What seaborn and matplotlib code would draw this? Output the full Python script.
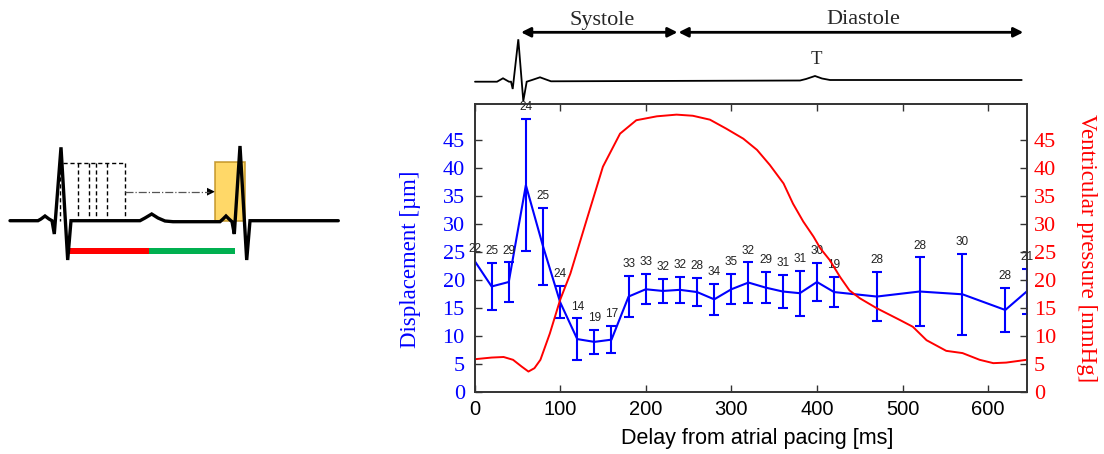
import numpy as np
import matplotlib
matplotlib.use("Agg")
import matplotlib.pyplot as plt
import seaborn as sns
from matplotlib.patches import Rectangle, Polygon

# ---------------- data ----------------
delay_ms = [0, 20, 40, 60, 80, 100, 120, 140, 160, 180, 200, 220, 240, 260, 280,
            300, 320, 340, 360, 380, 400, 420, 470, 520, 570, 620, 645]
disp_mean = [23.4, 18.8, 19.6, 36.9, 26.0, 16.0, 9.4, 8.9, 9.3, 17.0, 18.3, 18.0,
             18.2, 17.8, 16.5, 18.3, 19.5, 18.6, 17.9, 17.6, 19.6, 17.8, 17.0,
             17.9, 17.4, 14.6, 17.9]
disp_err = [np.nan, 4.2, 3.5, 11.8, 6.9, 2.9, 3.7, 2.1, 2.4, 3.7, 2.7, 2.1, 2.3,
            2.5, 2.8, 2.7, 3.6, 2.8, 2.9, 4.0, 3.4, 2.7, 4.4, 6.1, 7.2, 3.9, 4.0]
n_samples = [22, 25, 29, 24, 25, 24, 14, 19, 17, 33, 33, 32, 32, 28, 34, 35, 32,
             29, 31, 31, 30, 19, 28, 28, 30, 28, 21]

pressure_t = [0, 20, 34, 45, 55, 63, 70, 77, 88, 100, 112, 131, 150, 170, 189, 213,
              236, 255, 275, 294, 314, 330, 345, 361, 372, 384, 396, 404, 415, 427,
              438, 450, 470, 497, 512, 528, 551, 570, 590, 606, 621, 645]
pressure_mmHg = [5.8, 6.1, 6.2, 5.7, 4.5, 3.6, 4.2, 5.7, 10.4, 16.4, 21.1, 30.7,
                 40.2, 46.1, 48.5, 49.2, 49.5, 49.3, 48.6, 47.0, 45.2, 43.2, 40.5,
                 37.2, 33.6, 30.4, 27.7, 25.6, 23.5, 20.5, 18.1, 16.7, 14.9, 12.8,
                 11.6, 9.2, 7.3, 6.9, 5.7, 5.1, 5.2, 5.7]

x_ticks = [0, 100, 200, 300, 400, 500, 600]
y_ticks = [0, 5, 10, 15, 20, 25, 30, 35, 40, 45]

x_label = "Delay from atrial pacing [ms]"
y_label_left = "Displacement [\u00b5m]"
y_label_right = "Ventricular pressure [mmHg]"
phase_labels = ["Systole", "Diastole"]

# ---------------- style ----------------
sns.set_style("ticks")
plt.rcParams['font.family'] = ['Liberation Sans', 'DejaVu Sans']
SERIF = ['Liberation Serif', 'DejaVu Serif']
BLUE = '#0000FF'
RED = '#FF0000'
SPINE = '#333333'

W, H = 1104, 454
fig = plt.figure(figsize=(W / 100, H / 100), dpi=100)

# overlay axes in pixel units for schematic drawings
ov = fig.add_axes([0, 0, 1, 1])
ov.set_xlim(0, W)
ov.set_ylim(H, 0)
ov.axis('off')

# ---------------- main axes ----------------
ax_l, ax_t, ax_r, ax_b = 474.5, 104.0, 1026.7, 391.7
ax = fig.add_axes([ax_l / W, (H - ax_b) / H, (ax_r - ax_l) / W, (ax_b - ax_t) / H])
ax2 = ax.twinx()

sns.lineplot(x=delay_ms, y=disp_mean, ax=ax, color=BLUE, lw=1.5, zorder=3)
ax.errorbar(delay_ms, disp_mean, yerr=disp_err, fmt='none', ecolor=BLUE,
            elinewidth=1.5, capsize=3.7, capthick=1.5, zorder=3)
for xv, m, e, n in zip(delay_ms, disp_mean, disp_err, n_samples):
    top = m + (e if np.isfinite(e) else 0)
    ax.annotate(str(n), (xv, top), xytext=(0, 8.5), textcoords='offset points',
                ha='center', va='center', fontsize=8.5, color='#222222')

sns.lineplot(x=pressure_t, y=pressure_mmHg, ax=ax2, color=RED, lw=1.4)

ax.set_xlim(0, 645)
ax.set_ylim(0, 51.4)
ax2.set_ylim(0, 51.4)
ax.set_xticks(x_ticks)
ax.set_yticks(y_ticks)
ax2.set_yticks(y_ticks)

ax.tick_params(axis='x', direction='in', top=True, bottom=True, length=5, width=1,
               color=SPINE, labelsize=14.5, pad=6, labelcolor='black')
ax.tick_params(axis='y', direction='in', left=True, right=False, length=5, width=1,
               color=SPINE, labelsize=16, pad=7, labelcolor=BLUE)
ax2.tick_params(axis='y', direction='in', right=True, length=5, width=1,
                color=SPINE, labelsize=16, pad=5, labelcolor=RED)
for lab in ax.get_yticklabels() + ax2.get_yticklabels():
    lab.set_fontfamily(SERIF)

for a in (ax, ax2):
    for s in a.spines.values():
        s.set_visible(True)
        s.set_color(SPINE)
        s.set_linewidth(1.2)

ax.set_xlabel(x_label, fontsize=15.5, color='black')
ax.xaxis.set_label_coords(0.512, -0.125)
ax.set_ylabel(y_label_left, fontsize=16.5, color=BLUE, family=SERIF)
ax.yaxis.set_label_coords(-0.097, 0.461)
ax2.set_ylabel(y_label_right, fontsize=16.5, color=RED, family=SERIF,
               rotation=270, va='bottom')
ax2.yaxis.set_label_coords(1.09, 0.5)

# ---------------- top ECG strip with phases ----------------
ecg_top = [(475, 81.7), (497, 81.7), (500, 80), (503, 78.3), (506, 80), (509, 81.7),
           (511, 81.7), (512.7, 89), (518.3, 39.3), (523.3, 101), (526.7, 81.7),
           (532, 80), (540, 77.3), (546, 79.5), (551, 81.3), (800, 80.5), (806, 79),
           (815, 76), (822, 78.5), (830, 80), (1021.7, 80)]
ov.plot(*zip(*ecg_top), color='black', lw=1.3, solid_joinstyle='miter')
arrow_kw = dict(arrowstyle='<|-|>', color='black', lw=2.0, mutation_scale=14,
                shrinkA=0, shrinkB=0)
ov.annotate('', xy=(677.5, 32.3), xytext=(521, 32.3), arrowprops=arrow_kw)
ov.annotate('', xy=(1023.3, 32.3), xytext=(678.5, 32.3), arrowprops=arrow_kw)
ov.text(601.7, 20, phase_labels[0], ha='center', va='center', fontsize=16,
        family=SERIF)
ov.text(863.3, 20, phase_labels[1], ha='center', va='center', fontsize=16,
        family=SERIF)
ov.text(816.7, 60, "T", ha='center', va='center', fontsize=13.5, family=SERIF)

# ---------------- left schematic ----------------
# dashed delay boxes
for xv in [60, 77.7, 88.7, 96, 106.7, 125]:
    ov.plot([xv, xv], [163.3, 220.7], color='black', lw=1.0, ls=(0, (3, 2)))
ov.plot([63.3, 125], [163.3, 163.3], color='black', lw=1.0, ls=(0, (3, 2)))
ov.plot([125, 209], [191.7, 191.7], color='#555555', lw=0.9, ls='-.')
ov.add_patch(Polygon([[207, 187.8], [215, 191.7], [207, 195.6]], closed=True,
                     color='black', lw=0))

ecg_left = [(10, 220.7), (38, 220.7), (41, 219), (45, 216), (49, 219), (52, 220.7),
            (54.3, 234), (61, 147.3), (67.7, 260), (71, 220.7), (140, 220.7),
            (145, 218), (151.7, 214), (158, 218), (165, 221), (173, 221.7),
            (220, 221.7), (223, 219), (226, 216), (229, 219), (232, 221.7),
            (234.3, 234), (240, 146), (246.7, 260), (250, 220.7), (338.3, 220.7)]
ov.plot(*zip(*ecg_left), color='black', lw=2.4, solid_joinstyle='miter')

ov.add_patch(Rectangle((215, 162.3), 30, 58.4, facecolor='#FFD24D', alpha=0.85,
                       edgecolor='#C09020', lw=1.2))
ov.add_patch(Rectangle((65.7, 248.3), 83.3, 6, facecolor=RED, lw=0))
ov.add_patch(Rectangle((149, 248.3), 86, 6, facecolor='#00B050', lw=0))

fig.savefig("out.png", dpi=100)
